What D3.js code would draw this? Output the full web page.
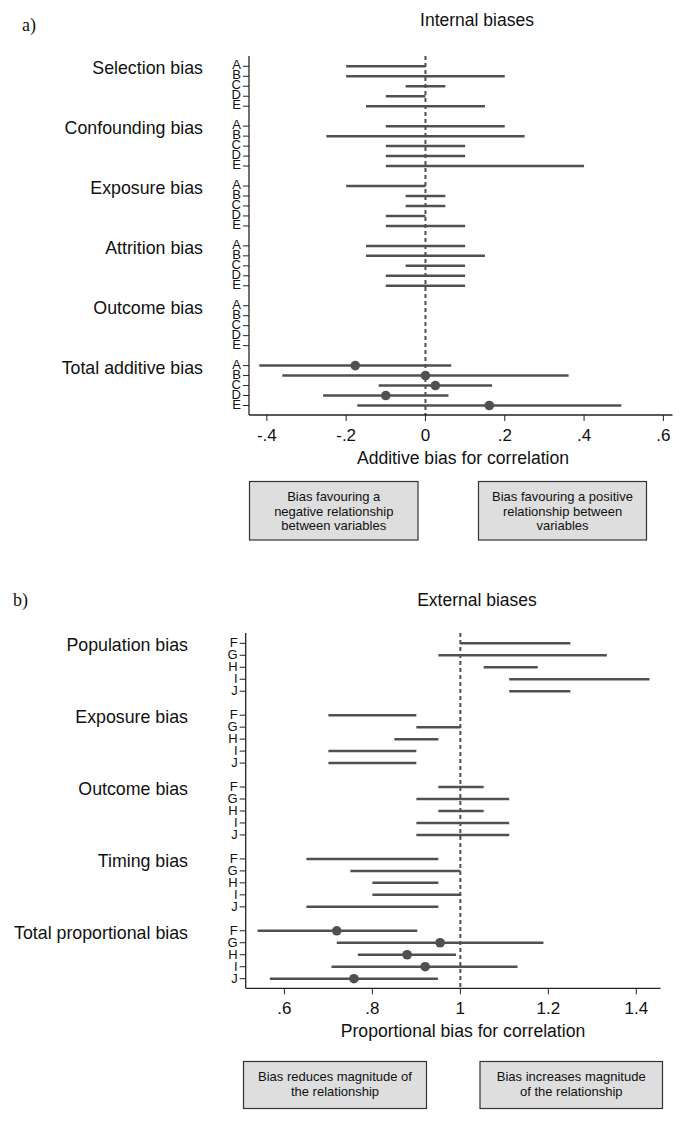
<!DOCTYPE html>
<html>
<head>
<meta charset="utf-8">
<script src="https://cdn.jsdelivr.net/npm/d3@7"></script>
<style>
  body { margin: 0; background: #fff; }
  svg text { font-family: "Liberation Sans", Arial, sans-serif; fill: #111; }
</style>
</head>
<body>
<div id="chart"></div>
<script>
// ---- data, panel a (additive bias) ----
const groupsA = ["Selection bias", "Confounding bias", "Exposure bias", "Attrition bias", "Outcome bias", "Total additive bias"];
const studiesA = ["A", "B", "C", "D", "E"];
const lowA = [
  [-0.2, -0.2, -0.05, -0.1, -0.15],
  [-0.1, -0.25, -0.1, -0.1, -0.1],
  [-0.2, -0.05, -0.05, -0.1, -0.1],
  [-0.15, -0.15, -0.05, -0.1, -0.1],
  [null, null, null, null, null],
  [-0.419, -0.361, -0.118, -0.258, -0.172]
];
const highA = [
  [0, 0.2, 0.05, 0, 0.15],
  [0.2, 0.25, 0.1, 0.1, 0.4],
  [0, 0.05, 0.05, 0, 0.1],
  [0.1, 0.15, 0.1, 0.1, 0.1],
  [null, null, null, null, null],
  [0.065, 0.361, 0.168, 0.058, 0.494]
];
const pointA = [-0.177, 0, 0.025, -0.1, 0.161];
const ticksA = [-0.4, -0.2, 0, 0.2, 0.4, 0.6];

// ---- data, panel b (proportional bias) ----
const groupsB = ["Population bias", "Exposure bias", "Outcome bias", "Timing bias", "Total proportional bias"];
const studiesB = ["F", "G", "H", "I", "J"];
const lowB = [
  [1, 0.95, 1.053, 1.111, 1.111],
  [0.7, 0.9, 0.85, 0.7, 0.7],
  [0.95, 0.9, 0.95, 0.9, 0.9],
  [0.65, 0.75, 0.8, 0.8, 0.65],
  [0.539, 0.719, 0.767, 0.707, 0.567]
];
const highB = [
  [1.25, 1.333, 1.176, 1.43, 1.25],
  [0.9, 1, 0.95, 0.9, 0.9],
  [1.053, 1.111, 1.053, 1.111, 1.111],
  [0.95, 1, 0.95, 1, 0.95],
  [0.902, 1.189, 0.99, 1.13, 0.949]
];
const pointB = [0.719, 0.954, 0.879, 0.92, 0.758];
const ticksB = [0.6, 0.8, 1, 1.2, 1.4];

const W = 685, H = 1127;
const ink = "#505050";

const svg = d3.select("#chart").append("svg")
  .attr("width", W)
  .attr("height", H);

function fmt(v) {
  if (v === 0) return "0";
  if (Number.isInteger(v)) return String(v);
  return String(v).replace(/^(-?)0\./, "$1.");
}

function panel(cfg) {
  const rowsN = cfg.groups.length * 6 - 1;
  const x = d3.scaleLinear().domain(cfg.xDomain).range([cfg.left, cfg.right]);
  const y = d3.scaleLinear().domain([0, rowsN - 1]).range([cfg.yFirst, cfg.yLast]);

  // flatten rows
  const rows = [];
  cfg.groups.forEach((g, gi) => {
    cfg.studies.forEach((s, si) => {
      rows.push({
        idx: gi * 6 + si, study: s,
        lo: cfg.low[gi][si], hi: cfg.high[gi][si],
        pt: gi === cfg.groups.length - 1 ? cfg.point[si] : null
      });
    });
  });

  const g = svg.append("g");

  // panel letter and title
  g.append("text").attr("x", cfg.letterX).attr("y", cfg.letterY)
    .style("font-family", "'Liberation Serif', 'Times New Roman', serif")
    .attr("font-size", 18).text(cfg.letter);
  g.append("text").attr("x", 477).attr("y", cfg.titleY)
    .attr("text-anchor", "middle").attr("font-size", 17.5).text(cfg.title);

  // reference line
  g.append("line")
    .attr("x1", x(cfg.ref)).attr("x2", x(cfg.ref))
    .attr("y1", cfg.top).attr("y2", cfg.axisY)
    .attr("stroke", ink).attr("stroke-width", 2)
    .attr("stroke-dasharray", "4,3");

  // y axis line and ticks
  g.append("line")
    .attr("x1", cfg.left).attr("x2", cfg.left)
    .attr("y1", cfg.top).attr("y2", cfg.axisY)
    .attr("stroke", "#222").attr("stroke-width", 1.3);
  g.selectAll(".ytick").data(rows).join("line")
    .attr("x1", cfg.left - 6).attr("x2", cfg.left)
    .attr("y1", d => y(d.idx)).attr("y2", d => y(d.idx))
    .attr("stroke", "#222").attr("stroke-width", 1);
  g.selectAll(".ylab").data(rows).join("text")
    .attr("x", cfg.left - 8).attr("y", d => y(d.idx) + cfg.labDy)
    .attr("text-anchor", "end").attr("font-size", 13)
    .text(d => d.study);

  // group labels
  g.selectAll(".grp").data(cfg.groups).join("text")
    .attr("x", cfg.groupX).attr("y", (d, i) => y(i * 6) + 8)
    .attr("text-anchor", "end").attr("font-size", 17.8)
    .text(d => d);

  // x axis
  g.append("line")
    .attr("x1", cfg.left).attr("x2", cfg.right)
    .attr("y1", cfg.axisY).attr("y2", cfg.axisY)
    .attr("stroke", "#222").attr("stroke-width", 1.3);
  g.selectAll(".xtick").data(cfg.ticks).join("line")
    .attr("x1", d => x(d)).attr("x2", d => x(d))
    .attr("y1", cfg.axisY).attr("y2", cfg.axisY + 6)
    .attr("stroke", "#222").attr("stroke-width", 1);
  g.selectAll(".xlab").data(cfg.ticks).join("text")
    .attr("x", d => x(d)).attr("y", cfg.axisY + 26)
    .attr("text-anchor", "middle").attr("font-size", 17)
    .text(fmt);
  g.append("text").attr("x", 463).attr("y", cfg.axisY + 49)
    .attr("text-anchor", "middle").attr("font-size", 17.6).text(cfg.xTitle);

  // intervals
  const iv = rows.filter(d => d.lo != null);
  g.selectAll(".iv").data(iv).join("line")
    .attr("x1", d => x(d.lo)).attr("x2", d => x(d.hi))
    .attr("y1", d => y(d.idx)).attr("y2", d => y(d.idx))
    .attr("stroke", ink).attr("stroke-width", 2.5);
  g.selectAll(".pt").data(rows.filter(d => d.pt != null)).join("circle")
    .attr("cx", d => x(d.pt)).attr("cy", d => y(d.idx))
    .attr("r", 4.8).attr("fill", ink);

  // explanation boxes
  cfg.boxes.forEach(b => {
    g.append("rect")
      .attr("x", b.x).attr("y", cfg.boxY)
      .attr("width", b.w).attr("height", cfg.boxH)
      .attr("fill", "#dedede").attr("stroke", "#333").attr("stroke-width", 1.2);
    const t = g.append("text").attr("text-anchor", "middle").attr("font-size", 13);
    b.lines.forEach((ln, i) => {
      t.append("tspan").attr("x", b.x + b.w / 2)
        .attr("y", cfg.boxTextY + i * 14.6).text(ln);
    });
  });
}

panel({
  letter: "a)", letterX: 22, letterY: 31,
  title: "Internal biases", titleY: 26,
  groups: groupsA, studies: studiesA, low: lowA, high: highA, point: pointA,
  ticks: ticksA, xDomain: [-0.445, 0.623], left: 249, right: 672.5,
  ref: 0, top: 56, axisY: 415, yFirst: 66.3, yLast: 405.5, labDy: 3,
  groupX: 203, xTitle: "Additive bias for correlation",
  boxY: 481.5, boxH: 58.5, boxTextY: 501,
  boxes: [
    { x: 249.5, w: 168.5, lines: ["Bias favouring a", "negative relationship", "between variables"] },
    { x: 478.5, w: 168, lines: ["Bias favouring a positive", "relationship between", "variables"] }
  ]
});

panel({
  letter: "b)", letterX: 13, letterY: 606,
  title: "External biases", titleY: 606,
  groups: groupsB, studies: studiesB, low: lowB, high: highB, point: pointB,
  ticks: ticksB, xDomain: [0.512, 1.455], left: 245.7, right: 660.5,
  ref: 1, top: 633, axisY: 988.3, yFirst: 643.3, yLast: 978.7, labDy: 4,
  groupX: 188, xTitle: "Proportional bias for correlation",
  boxY: 1061.5, boxH: 47, boxTextY: 1081,
  boxes: [
    { x: 243.5, w: 183, lines: ["Bias reduces magnitude of", "the relationship"] },
    { x: 480, w: 182.5, lines: ["Bias increases magnitude", "of the relationship"] }
  ]
});
</script>
</body>
</html>
